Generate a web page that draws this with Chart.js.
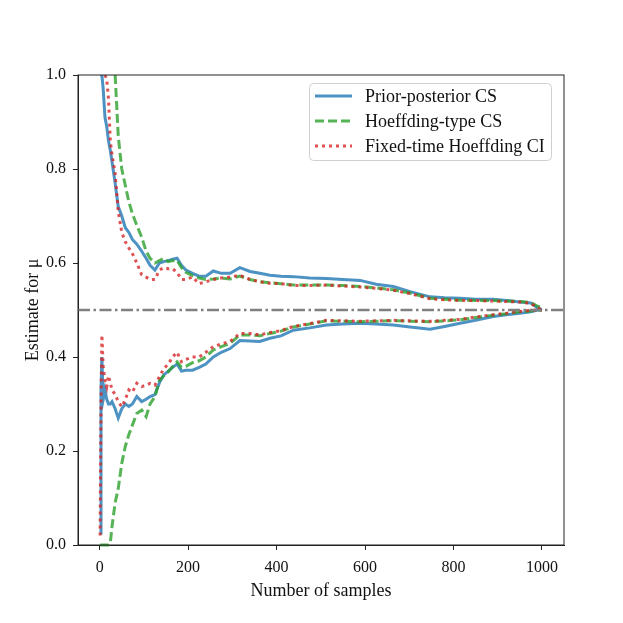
<!DOCTYPE html>
<html>
<head>
<meta charset="utf-8">
<script src="https://cdn.jsdelivr.net/npm/chart.js@4.4.1/dist/chart.umd.min.js"></script>
<style>
  html, body { margin: 0; padding: 0; background: #fff; }
  #wrap { width: 623px; height: 623px; }
</style>
</head>
<body>
<div id="wrap"><canvas id="myChart" width="623" height="623"></canvas></div>
<script>
const samples = [1, 3, 5, 8, 12, 16, 20, 24, 28, 35, 42, 50, 58, 66, 74, 84, 95, 105, 114, 125,
  135, 145, 155, 165, 175, 185, 195, 210, 225, 240, 257, 275, 295, 317, 340, 362, 385, 410, 438, 475,
  513, 550, 589, 625, 664, 702, 747, 780, 815, 850, 890, 920, 950, 975, 990, 1000];

// Prior-posterior CS
const ppUpper = [1.0, 1.0, 1.0, 0.97, 0.91, 0.89, 0.86, 0.84, 0.815, 0.77, 0.72, 0.70, 0.675, 0.665, 0.65, 0.64, 0.625, 0.61, 0.595, 0.585,
  0.60, 0.603, 0.605, 0.608, 0.61, 0.595, 0.585, 0.578, 0.572, 0.572, 0.583, 0.578, 0.578, 0.59, 0.582, 0.578, 0.574, 0.572, 0.571, 0.568,
  0.567, 0.565, 0.563, 0.555, 0.55, 0.539, 0.528, 0.526, 0.525, 0.523, 0.523, 0.52, 0.517, 0.515, 0.505, 0.50];
const ppLower = [0.025, 0.33, 0.40, 0.31, 0.33, 0.31, 0.30, 0.30, 0.305, 0.29, 0.27, 0.29, 0.30, 0.295, 0.30, 0.316, 0.305, 0.31, 0.316, 0.32,
  0.345, 0.362, 0.37, 0.378, 0.385, 0.37, 0.372, 0.372, 0.378, 0.385, 0.40, 0.41, 0.418, 0.435, 0.434, 0.433, 0.44, 0.445, 0.457, 0.462,
  0.468, 0.47, 0.472, 0.47, 0.468, 0.464, 0.459, 0.465, 0.472, 0.478, 0.486, 0.49, 0.493, 0.496, 0.50, 0.50];

// Hoeffding-type CS
const hUpper = [null, null, null, null, null, null, null, null, null, 1.0, 0.87, 0.80, 0.765, 0.73, 0.705, 0.68, 0.655, 0.625, 0.61, 0.60,
  0.605, 0.61, 0.603, 0.605, 0.606, 0.59, 0.58, 0.573, 0.568, 0.565, 0.566, 0.568, 0.566, 0.572, 0.565, 0.56, 0.558, 0.556, 0.553, 0.553,
  0.553, 0.552, 0.55, 0.547, 0.543, 0.536, 0.525, 0.523, 0.521, 0.52, 0.52, 0.519, 0.518, 0.516, 0.508, 0.505];
const hLower = [0, 0, 0, 0, 0, 0, 0, 0.004, 0.04, 0.09, 0.12, 0.174, 0.21, 0.235, 0.255, 0.28, 0.287, 0.273, 0.30, 0.316,
  0.35, 0.36, 0.368, 0.38, 0.39, 0.378, 0.38, 0.388, 0.392, 0.40, 0.415, 0.422, 0.429, 0.447, 0.447, 0.445, 0.45, 0.455, 0.464, 0.47,
  0.477, 0.476, 0.475, 0.476, 0.477, 0.476, 0.475, 0.477, 0.479, 0.484, 0.489, 0.492, 0.496, 0.498, 0.50, 0.50];

// Fixed-time Hoeffding CI
const fUpper = [null, null, null, null, 1.0, 0.99, 0.95, 0.86, 0.83, 0.79, 0.71, 0.665, 0.645, 0.632, 0.62, 0.60, 0.575, 0.57, 0.565, 0.565,
  0.585, 0.59, 0.588, 0.588, 0.58, 0.565, 0.565, 0.57, 0.556, 0.56, 0.565, 0.568, 0.57, 0.574, 0.565, 0.56, 0.557, 0.556, 0.552, 0.552,
  0.553, 0.551, 0.549, 0.546, 0.542, 0.535, 0.524, 0.522, 0.52, 0.52, 0.519, 0.518, 0.517, 0.514, 0.505, 0.50];
const fLower = [0.02, 0.30, 0.447, 0.38, 0.35, 0.337, 0.36, 0.345, 0.33, 0.32, 0.305, 0.294, 0.31, 0.33, 0.325, 0.344, 0.337, 0.34, 0.344, 0.34,
  0.358, 0.375, 0.385, 0.40, 0.41, 0.39, 0.395, 0.40, 0.40, 0.41, 0.422, 0.428, 0.433, 0.45, 0.45, 0.447, 0.452, 0.456, 0.465, 0.471,
  0.478, 0.477, 0.476, 0.477, 0.478, 0.477, 0.476, 0.478, 0.48, 0.485, 0.49, 0.493, 0.497, 0.499, 0.50, 0.50];

const trueMean = 0.5;
const xTicks = [0, 200, 400, 600, 800, 1000];
const yTicks = [0, 0.2, 0.4, 0.6, 0.8, 1.0];
const legendLabels = ["Prior-posterior CS", "Hoeffding-type CS", "Fixed-time Hoeffding CI"];

const BLUE = "rgba(31, 119, 180, 0.8)";
const GREEN = "rgba(44, 160, 44, 0.8)";
const RED = "rgba(214, 39, 40, 0.8)";
const FONT = "'Liberation Serif', 'DejaVu Serif', serif";

const pts = (arr) => samples.map((n, i) => ({ x: n, y: arr[i] }));

function line(label, arr, color, dash, order) {
  return {
    label: label,
    data: pts(arr),
    borderColor: color,
    backgroundColor: color,
    borderWidth: 3,
    borderDash: dash,
    pointRadius: 0,
    tension: 0,
    fill: false,
    spanGaps: false,
    order: order,
    clip: { left: 5, top: 0, right: 5, bottom: 3 },
  };
}

// matplotlib style frame + legend box inside the axes
const framePlugin = {
  id: "frame",
  afterDraw(chart) {
    const { ctx, chartArea: a } = chart;
    ctx.save();
    ctx.strokeStyle = "#222";
    ctx.lineWidth = 1;
    ctx.strokeRect(a.left, a.top, a.right - a.left, a.bottom - a.top);

    const bx = 309.5, by = 83.5, bw = 242, bh = 77;
    ctx.beginPath();
    ctx.roundRect(bx, by, bw, bh, 4);
    ctx.fillStyle = "rgba(255,255,255,0.8)";
    ctx.fill();
    ctx.strokeStyle = "#d0d0d0";
    ctx.stroke();

    const styles = [
      { c: BLUE, d: [] },
      { c: GREEN, d: [9, 4] },
      { c: RED, d: [3, 4] },
    ];
    ctx.font = "18px " + FONT;
    ctx.textBaseline = "middle";
    legendLabels.forEach((txt, i) => {
      const y = 96 + i * 25;
      ctx.beginPath();
      ctx.setLineDash(styles[i].d);
      ctx.strokeStyle = styles[i].c;
      ctx.lineWidth = 3;
      ctx.moveTo(315, y);
      ctx.lineTo(352, y);
      ctx.stroke();
      ctx.setLineDash([]);
      ctx.fillStyle = "#111";
      ctx.fillText(txt, 365, y + 1);
    });
    ctx.restore();
  },
};

const ctx = document.getElementById("myChart").getContext("2d");
const myChart = new Chart(ctx, {
  type: "line",
  data: {
    datasets: [
      line("Prior-posterior CS", ppUpper, BLUE, [], 3),
      line("Prior-posterior CS lower", ppLower, BLUE, [], 3),
      line("Hoeffding-type CS", hUpper, GREEN, [9, 4], 2),
      line("Hoeffding-type CS lower", hLower, GREEN, [9, 4], 2),
      line("Fixed-time Hoeffding CI", fUpper, RED, [3, 4], 1),
      line("Fixed-time Hoeffding CI lower", fLower, RED, [3, 4], 1),
      {
        label: "mu",
        data: [{ x: -49, y: trueMean }, { x: 1050, y: trueMean }],
        borderColor: "#808080",
        borderWidth: 2.5,
        borderDash: [12, 3.5, 2.5, 3.5],
        pointRadius: 0,
        order: 0,
      },
    ],
  },
  plugins: [framePlugin],
  options: {
    responsive: false,
    animation: false,
    layout: { padding: { left: 22, top: 75, right: 59, bottom: 21 } },
    plugins: {
      legend: { display: false },
      tooltip: { enabled: false },
    },
    scales: {
      x: {
        type: "linear",
        min: -49,
        max: 1050,
        afterFit: (s) => { s.height = 57; },
        afterBuildTicks: (s) => { s.ticks = xTicks.map((v) => ({ value: v })); },
        grid: { drawOnChartArea: false, tickLength: 5, tickColor: "#222" },
        border: { color: "#222" },
        ticks: {
          color: "#111",
          font: { family: FONT, size: 16 },
          padding: 8,
          maxRotation: 0,
          callback: (v) => String(v),
        },
        title: {
          display: true,
          text: "Number of samples",
          color: "#111",
          font: { family: FONT, size: 18 },
          padding: { top: 0, bottom: 0 },
        },
      },
      y: {
        min: 0,
        max: 1,
        afterFit: (s) => { s.width = 56; },
        afterBuildTicks: (s) => { s.ticks = yTicks.map((v) => ({ value: v })); },
        grid: { drawOnChartArea: false, tickLength: 5, tickColor: "#222" },
        border: { color: "#222" },
        ticks: {
          color: "#111",
          font: { family: FONT, size: 16 },
          padding: 7,
          callback: (v) => v.toFixed(1),
        },
        title: {
          display: true,
          text: "Estimate for μ",
          color: "#111",
          font: { family: FONT, size: 18 },
          padding: { top: 0, bottom: 0 },
        },
      },
    },
  },
});
</script>
</body>
</html>
